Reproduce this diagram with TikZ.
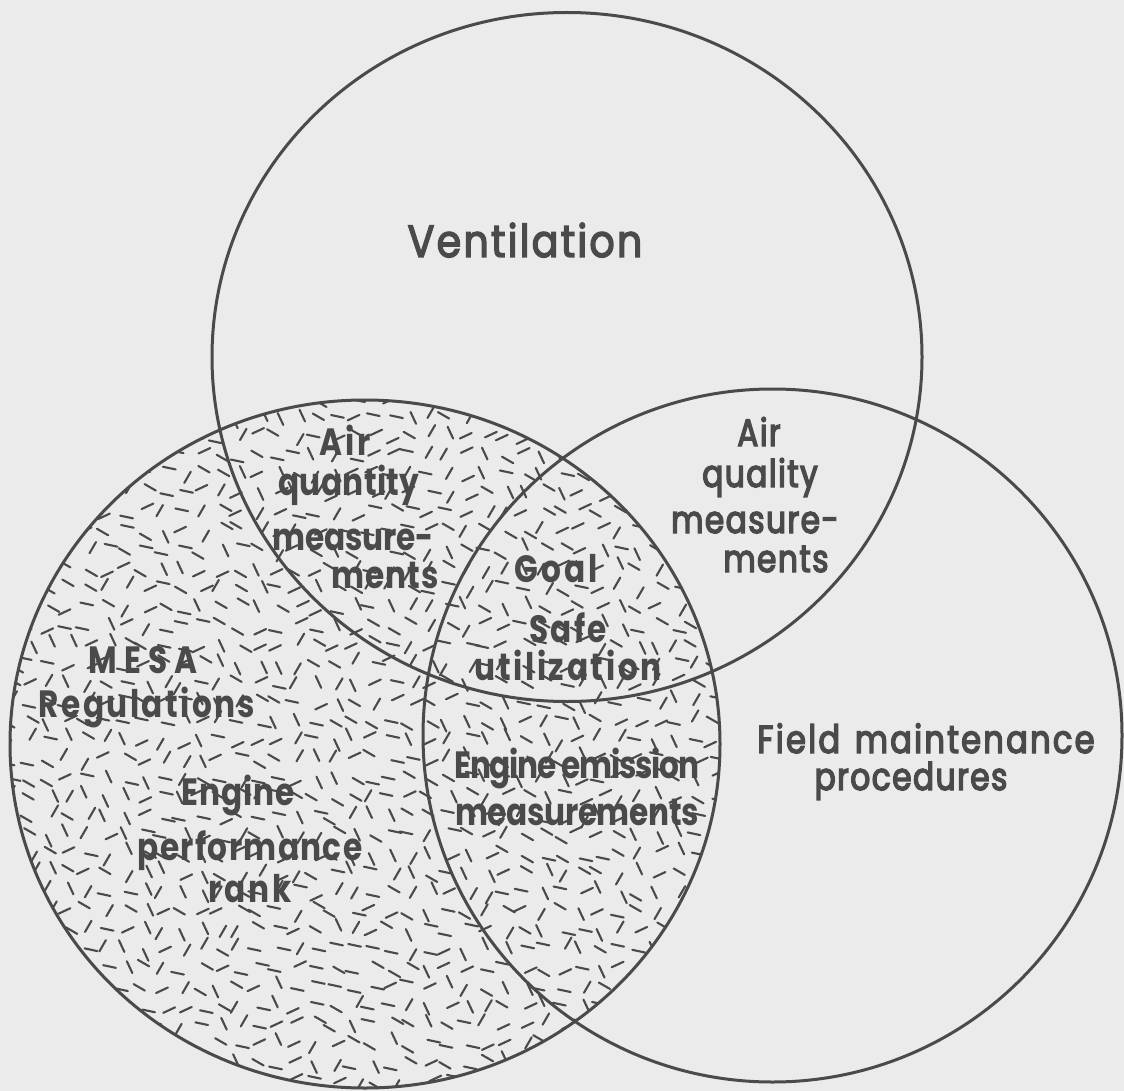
\documentclass[tikz,border=0pt]{standalone}
\usepackage{fontspec}
\setmainfont{Poppins}
\newfontfamily\lblfont{Poppins}[FakeStretch=0.82,LetterSpace=4]
\newfontfamily\bigfont{Poppins}[FakeStretch=0.88,LetterSpace=5]
\newfontfamily\shdfont{Poppins}[FakeStretch=0.82]
\newcommand{\strkon}{\special{pdf:literal direct 2 Tr 1.4 w}}
\newcommand{\strkoff}{\special{pdf:literal direct 0 Tr}}
\definecolor{bg}{HTML}{EBEBEB}
\definecolor{ink}{HTML}{4A4A4A}
\pgfmathdeclarerandomlist{angs}{{25}{60}{115}{150}{168}}
\begin{document}
\begin{tikzpicture}[x=1pt,y=-1pt,
  vennline/.style={draw=ink, line width=3pt},
  dashline/.style={draw=ink, line width=2.1pt, line cap=round},
  lbl/.style={anchor=base, text=ink, inner sep=0pt, font=\lblfont\fontsize{38}{40}\selectfont},
  bigl/.style={anchor=base, text=ink, inner sep=0pt, font=\bigfont\fontsize{45}{48}\selectfont},
  shd/.style={anchor=base, text=ink, inner sep=0pt,
    font=\shdfont\bfseries\fontsize{38}{40}\selectfont\addfontfeature{LetterSpace=#1}},
  shd/.default=0]
\fill[bg] (0,0) rectangle (1124,1091);
\useasboundingbox (0,0) rectangle (1124,1091);
% texture in MESA circle
\pgfmathsetseed{7}
\begin{scope}
  \clip (365,744) ellipse [x radius=355pt, y radius=344pt];
  \foreach \i in {0,...,38} {
    \foreach \j in {0,...,37} {
      \pgfmathsetmacro{\px}{12+\i*19+rnd*12-6}
      \pgfmathsetmacro{\py}{398+\j*19+rnd*12-6}
      \pgfmathrandomitem{\ang}{angs}
      \draw[dashline] (\px,\py) ++(\ang:-6.5pt) -- ++(\ang:13pt);
    }
  }
\end{scope}
% circles
\draw[vennline] (567,357) ellipse [x radius=355pt, y radius=344.5pt];
\draw[vennline] (365,744) ellipse [x radius=355pt, y radius=344pt];
\draw[vennline] (772.5,735.5) ellipse [x radius=349.5pt, y radius=346.5pt];
% labels
\node[bigl] (vent) at (525,257) {\strkon Ventilation\strkoff};
\node[lbl] (aq1) at (759,446) {\strkon Air\strkoff};
\node[lbl] (aq2) at (760,487) {\strkon quality\strkoff};
\node[lbl] (aq3) at (755,533) {\strkon measure-\strkoff};
\node[lbl] (aq4) at (776,572) {\strkon ments\strkoff};
\node[lbl, font=\lblfont\fontsize{39}{40}\selectfont\addfontfeature{LetterSpace=6}] (fm1) at (926,753) {\strkon Field\hspace{4pt} maintenance\strkoff};
\node[lbl] (fm2) at (911,790) {\strkon procedures\strkoff};
\node[shd=8] (qa1) at (345,455) {Air};
\node[shd=1] (qa2) at (349,495) {quantity};
\node[shd=-0.5] (qa3) at (353,550) {measure-};
\node[shd=3] (qa4) at (385,588) {ments};
\node[shd=8] (go1) at (556,582) {Goal};
\node[shd=6] (go2) at (568,642) {Safe};
\node[shd=7] (go3) at (568,680) {utilization};
\node[shd=-3] (em1) at (577,778) {Engine\hspace{-1pt} emission};
\node[shd=-1] (em2) at (577,825) {measurements};
\node[shd=19] (ms1) at (143,673) {MESA};
\node[shd=6.5] (ms2) at (147,717) {Regulations};
\node[shd=2.5] (ep1) at (238,805) {Engine};
\node[shd=3.5] (ep2) at (250,860) {performance};
\node[shd=8] (ep3) at (250,902) {rank};
\end{tikzpicture}
\end{document}
